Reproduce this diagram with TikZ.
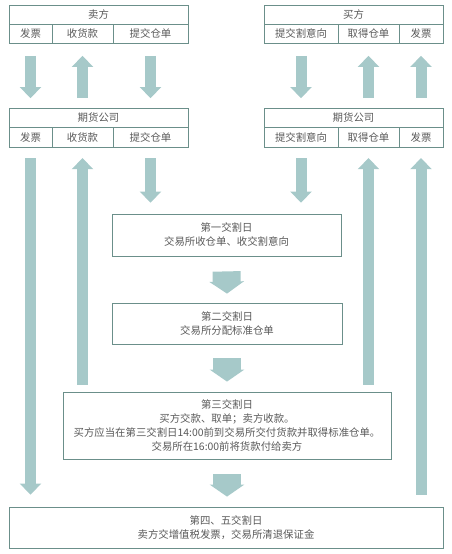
\documentclass[tikz,border=0pt]{standalone}
\usepackage{fontspec}
\setmainfont{Noto Sans CJK SC}
\usetikzlibrary{arrows.meta,calc}
\definecolor{boxc}{HTML}{6B8F8A}
\definecolor{arrc}{HTML}{A6C9C9}
\definecolor{txtc}{HTML}{595959}
\begin{document}
\begin{tikzpicture}[x=1pt,y=-1pt,
  cell/.style={draw=boxc,line width=0.8pt,rectangle,inner sep=0pt,text=txtc,
    font=\fontsize{10.4pt}{14pt}\selectfont},
  hdr/.style={cell,minimum width=179pt,minimum height=19pt},
  sub/.style={cell,minimum height=19.5pt},
  stage/.style={cell,align=center},
  thinarr/.style={draw=arrc,line width=11pt,-{Triangle[width=21pt,length=11pt]}},
  fatarr/.style={draw=arrc,line width=28pt,-{Triangle[width=34pt,length=12pt]}}
]
\useasboundingbox (0,0) rectangle (451,554);
% seller
\node[hdr] (sh) at (98.5,14.5) {卖方};
\node[sub,minimum width=43pt] (s1) at (30.5,33.75) {发票};
\node[sub,minimum width=61pt] (s2) at (82.5,33.75) {收货款};
\node[sub,minimum width=75pt] (s3) at (150.5,33.75) {提交仓单};
% buyer
\node[hdr] (bh) at (353.5,14.5) {买方};
\node[sub,minimum width=74pt] (r1) at (301,33.75) {提交割意向};
\node[sub,minimum width=61pt] (r2) at (368.5,33.75) {取得仓单};
\node[sub,minimum width=44pt] (r3) at (421,33.75) {发票};
% futures company (seller side)
\node[hdr] (qh) at (98.5,118) {期货公司};
\node[sub,minimum width=43pt] (q1) at (30.5,137.5) {发票};
\node[sub,minimum width=61pt] (q2) at (82.5,137.5) {收货款};
\node[sub,minimum width=75pt] (q3) at (150.5,137.5) {提交仓单};
% futures company (buyer side)
\node[hdr] (ph) at (353.5,118) {期货公司};
\node[sub,minimum width=74pt] (p1) at (301,137.5) {提交割意向};
\node[sub,minimum width=61pt] (p2) at (368.5,137.5) {取得仓单};
\node[sub,minimum width=44pt] (p3) at (421,137.5) {发票};
% stages
\node[stage,minimum width=229pt,minimum height=42pt] (b1) at (226.5,235) {第一交割日\\交易所收仓单、收交割意向};
\node[stage,minimum width=230pt,minimum height=41pt] (b2) at (227,323.5) {第二交割日\\交易所分配标准仓单};
\node[stage,minimum width=328pt,minimum height=67pt] (b3) at (227,425.5) {第三交割日\\买方交款、取单；卖方收款。\\买方应当在第三交割日14:00前到交易所交付货款并取得标准仓单。\\交易所在16:00前将货款付给卖方};
\node[stage,minimum width=434pt,minimum height=41pt] (b4) at (226,527.5) {第四、五交割日\\卖方交增值税发票，交易所清退保证金};
% top arrows
\draw[thinarr] ($(s1.south)+(0,12)$) -- ($(s1.south |- qh.north)+(0,-10)$);
\draw[thinarr] ($(s2.south |- qh.north)+(0,-10)$) -- ($(s2.south)+(0,12)$);
\draw[thinarr] ($(s3.south)+(0,12)$) -- ($(s3.south |- qh.north)+(0,-10)$);
\draw[thinarr] ($(r1.south)+(0,12)$) -- ($(r1.south |- ph.north)+(0,-10)$);
\draw[thinarr] ($(r2.south |- ph.north)+(0,-10)$) -- ($(r2.south)+(0,12)$);
\draw[thinarr] ($(r3.south |- ph.north)+(0,-10)$) -- ($(r3.south)+(0,12)$);
% lower arrows
\draw[thinarr] ($(q1.south)+(0,10.5)$) -- ($(q1.south |- b4.north)+(0,-12)$);
\draw[thinarr] ($(q2.south |- b3.north)+(0,-7)$) -- ($(q2.south)+(0,10.5)$);
\draw[thinarr] ($(q3.south)+(0,10.5)$) -- ($(q3.south |- b1.north)+(0,-11)$);
\draw[thinarr] ($(p1.south)+(0,10.5)$) -- ($(p1.south |- b1.north)+(0,-11)$);
\draw[thinarr] ($(p2.south |- b3.north)+(0,-7)$) -- ($(p2.south)+(0,10.5)$);
\draw[thinarr] ($(p3.south |- b4.north)+(0,-12)$) -- ($(p3.south)+(0,10.5)$);
% stage arrows
\draw[fatarr] ($(b1.south)+(0,15)$) -- ($(b2.north)+(0,-9)$);
\draw[fatarr] ($(b2.south)+(0,14)$) -- ($(b2.south |- b3.north)+(0,-10)$);
\draw[fatarr] ($(b3.south)+(0,15)$) -- ($(b3.south |- b4.north)+(0,-10)$);
\end{tikzpicture}
\end{document}
